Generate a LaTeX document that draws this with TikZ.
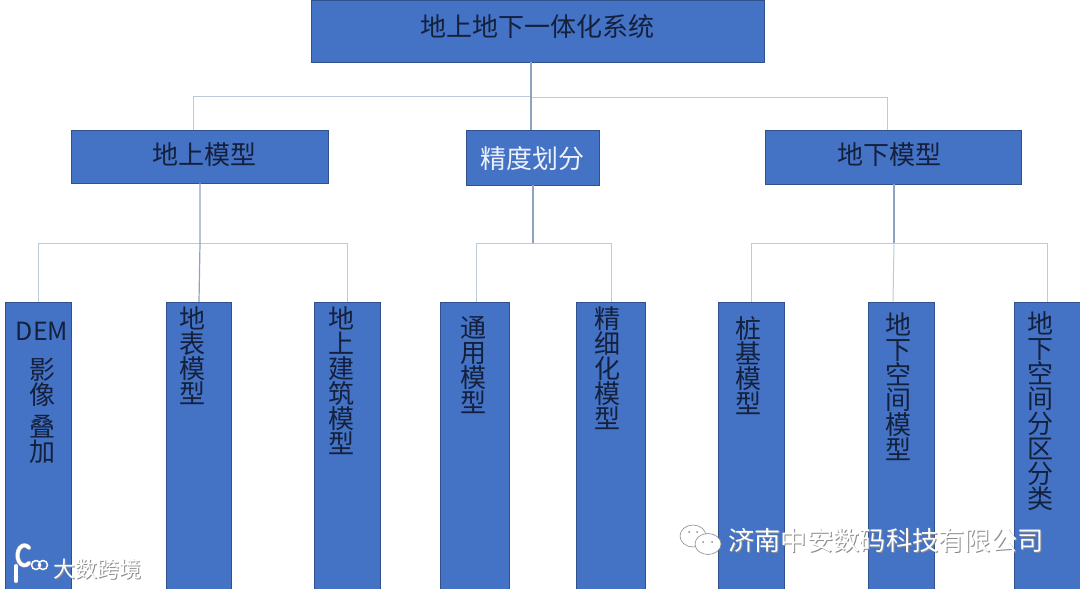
\documentclass[tikz,border=0pt]{standalone}
\usepackage{fontspec}
\usepackage{xcolor}
\setmainfont{Noto Sans CJK SC}
\definecolor{boxblue}{HTML}{4472C4}
\definecolor{boxline}{HTML}{2F528F}
\definecolor{inkblue}{HTML}{14203C}
\definecolor{trunkline}{HTML}{8FA3C0}
\definecolor{busline}{HTML}{BCCADC}

\begin{document}
\begin{tikzpicture}[
            x=1pt, y=-1pt,
            box/.style={draw=boxline, fill=boxblue, line width=1pt, rectangle, inner sep=0pt, outer sep=0pt},
            leaf/.style={box, anchor=north west, minimum height=288pt},
            vtext/.style={anchor=north, inner sep=0pt, align=center, text=inkblue, font=\fontsize{26}{25}\selectfont},
            trunk/.style={trunkline, line width=1.2pt},
            bus/.style={busline, line width=1pt},
            wmark/.style={anchor=west, inner sep=0pt, text=white},
            wshade/.style={anchor=west, inner sep=0pt, text=black!45}
        ]
            \useasboundingbox (0,0) rectangle (1080,589);

            % --- TOP ROW ---
            \node[box, minimum width=453pt, minimum height=62pt] (root) at (537.5,31) {};
            \node[vtext, anchor=center] (root_text) at (537,26.5) {地上地下一体化系统};
            \node[box, minimum width=257pt, minimum height=53pt] (above) at (199.5,156.5) {};
            \node[vtext, anchor=center] (above_text) at (204.5,155) {地上模型};
            \node[box, minimum width=133pt, minimum height=55pt] (mid) at (532.5,157.5) {};
            \node[vtext, anchor=center, text=white!90!boxblue] (mid_text) at (532.5,158.5) {精度划分};
            \node[box, minimum width=256pt, minimum height=54pt] (below) at (893,157) {};
            \node[vtext, anchor=center] (below_text) at (889,155) {地下模型};

            % --- LEAF BOXES ---
            \node[leaf, minimum width=66pt] (dem) at (5,302) {};
            \node[leaf, minimum width=65pt] (surface) at (166,302) {};
            \node[leaf, minimum width=66pt] (building) at (314,302) {};
            \node[leaf, minimum width=69pt] (general) at (440,302) {};
            \node[leaf, minimum width=69pt] (fine) at (576,302) {};
            \node[leaf, minimum width=66pt] (pile) at (718,302) {};
            \node[leaf, minimum width=66pt] (space) at (868,302) {};
            \node[leaf, minimum width=66pt] (zone) at (1014,302) {};

            % --- BUS POINTS ---
            \coordinate (top_bus) at (531,96);
            \coordinate (above_drop) at (193,96);
            \coordinate (below_drop) at (887,97);
            \coordinate (above_bus) at (200,243);
            \coordinate (dem_drop) at (38,243);
            \coordinate (surface_drop) at (199,302);
            \coordinate (mid_bus) at (533,243);
            \coordinate (general_drop) at (476,243);
            \coordinate (fine_drop) at (611,243);
            \coordinate (below_bus) at (894,243);
            \coordinate (pile_drop) at (751,243);
            \coordinate (space_drop) at (893,302);
            \coordinate (zone_drop) at (1047,243);

            % Top bus
            \draw[bus] (top_bus) -- (above_drop) -- (above_drop |- above.north);
            \draw[bus] (top_bus |- below_drop) -- (below_drop) -- (below_drop |- below.north);
            \draw[trunk] (top_bus |- root.south) -- (top_bus |- mid.north);

            % Left group
            \draw[bus] (above_bus) -- (dem_drop) -- (dem_drop |- dem.north);
            \draw[bus] (above_bus) -- (above_bus -| building.north) -- (building.north);
            \draw[trunk] (above_bus |- above.south) -- (above_bus) -- (surface_drop);

            % Middle group
            \draw[bus] (mid_bus) -- (general_drop) -- (general_drop |- general.north);
            \draw[bus] (mid_bus) -- (fine_drop) -- (fine_drop |- fine.north);
            \draw[trunk] (mid_bus |- mid.south) -- (mid_bus);

            % Right group
            \draw[bus] (below_bus) -- (pile_drop) -- (pile_drop |- pile.north);
            \draw[bus] (below_bus) -- (zone_drop) -- (zone_drop |- zone.north);
            \draw[bus] (below_bus) -- (space_drop);
            \draw[trunk] (below_bus |- below.south) -- (below_bus);

            % --- LEAF TEXT ---
            \node[vtext, font=\fontsize{25}{25}\selectfont] (dem_word) at (42,322) {DEM};
            \node[vtext] (dem_text1) at (43,358) {影\\像};
            \node[vtext] (dem_text2) at (43,415) {叠\\加};
            \node[vtext] (surface_text) at (192,306) {地\\表\\模\\型};
            \node[vtext] (building_text) at (341,306) {地\\上\\建\\筑\\模\\型};
            \node[vtext] (general_text) at (473,316) {通\\用\\模\\型};
            \node[vtext] (fine_text) at (607,306) {精\\细\\化\\模\\型};
            \node[vtext] (pile_text) at (748,316) {桩\\基\\模\\型};
            \node[vtext] (space_text) at (898,312) {地\\下\\空\\间\\模\\型};
            \node[vtext] (zone_text) at (1040,311) {地\\下\\空\\间\\分\\区\\分\\类};

            % --- WATERMARKS ---
            \node[wshade, font=\fontsize{26.3}{26}\selectfont] (company_shade) at (729,541.5) {济南中安数码科技有限公司};
            \node[wmark, font=\fontsize{26.3}{26}\selectfont] (company) at (728,540.5) {济南中安数码科技有限公司};
            \node[wshade, font=\fontsize{22}{22}\selectfont] (brand_shade) at (54,570.5) {大数跨境};
            \node[wmark, font=\fontsize{22}{22}\selectfont] (brand) at (53,569.5) {大数跨境};

            % chat icon
            \draw[black!45, fill=white, line width=0.6pt] (693,536) ellipse (13 and 11);
            \draw[black!45, fill=white, line width=0.6pt] (708,544) ellipse (13 and 10.5);
            \fill[black!45] (689,532) circle (1) (697,532) circle (1) (703,542) circle (1) (712,542) circle (1);

            % logo
            \draw[black!30, line width=4.5pt, line cap=round] (16,566) -- (16,581);
            \draw[black!30, line width=4.5pt, line cap=round] (29,563) arc (50:310:7 and 10);
            \draw[white, line width=3.5pt, line cap=round] (16,566) -- (16,581);
            \draw[white, line width=3.5pt, line cap=round] (29,563) arc (50:310:7 and 10);
            \draw[white, line width=1.5pt] (36,565) circle (4.5) (43,565) circle (4.5);
        \end{tikzpicture}
\end{document}
